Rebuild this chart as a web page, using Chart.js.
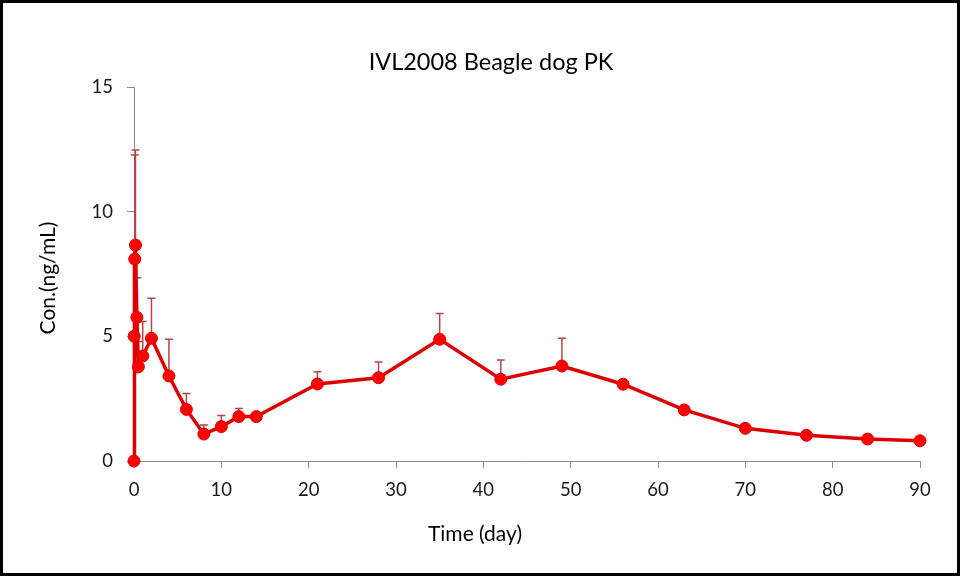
<!DOCTYPE html>
<html><head><meta charset="utf-8">
<script src="https://cdn.jsdelivr.net/npm/chart.js@4/dist/chart.umd.min.js"></script>
<style>html,body{margin:0;padding:0;background:#fff}#wrap{width:960px;height:576px;position:relative}</style>
</head><body><div id="wrap"><canvas id="c" width="960" height="576"></canvas></div>
<script>
const chartTitle = 'IVL2008 Beagle dog PK';
const xAxisTitle = 'Time (day)';
const yAxisTitle = 'Con.(ng/mL)';
const timeDays = [0, 0.021, 0.083, 0.167, 0.333, 0.5, 1, 2, 4, 6, 8, 10, 12, 14, 21, 28, 35, 42, 49, 56, 63, 70, 77, 84, 90];
const concMean = [0, 5.0, 8.1, 8.66, 5.76, 3.78, 4.21, 4.92, 3.41, 2.07, 1.08, 1.38, 1.78, 1.78, 3.09, 3.34, 4.88, 3.28, 3.81, 3.08, 2.05, 1.31, 1.03, 0.88, 0.81];
const concSD = [0, 0, 4.17, 3.81, 1.59, 1.01, 1.38, 1.61, 1.47, 0.64, 0.36, 0.44, 0.33, 0, 0.49, 0.63, 1.04, 0.77, 1.11, 0, 0, 0, 0, 0, 0];
const xTickValues = [0, 10, 20, 30, 40, 50, 60, 70, 80, 90];
const yTickValues = [0, 5, 10, 15];

const FONT = 'Lato, "Noto Sans", sans-serif';

const errorBars = {
  id: 'errorBars',
  beforeDatasetsDraw(chart) {
    const { ctx, scales: { x, y } } = chart;
    ctx.save();
    ctx.strokeStyle = '#b4454a';
    ctx.lineWidth = 1.5;
    timeDays.forEach((t, i) => {
      const sd = concSD[i];
      if (!sd) return;
      const px = x.getPixelForValue(t);
      const p0 = y.getPixelForValue(concMean[i]);
      const p1 = y.getPixelForValue(concMean[i] + sd);
      ctx.beginPath();
      ctx.moveTo(px, p0); ctx.lineTo(px, p1);
      ctx.moveTo(px - 4, p1); ctx.lineTo(px + 4, p1);
      ctx.stroke();
    });
    ctx.restore();
  }
};

const texts = {
  id: 'texts',
  afterDraw(chart) {
    const ctx = chart.ctx;
    ctx.save();
    ctx.strokeStyle = '#000';
    ctx.lineWidth = 3;
    ctx.strokeRect(1.5, 1.5, 957, 573);
    ctx.fillStyle = '#000';
    ctx.textAlign = 'center';
    ctx.textBaseline = 'middle';
    ctx.font = '23.5px ' + FONT;
    ctx.fillText(chartTitle, 491, 62);
    ctx.font = '21px ' + FONT;
    ctx.fillText(xAxisTitle, 475, 534);
    ctx.translate(48, 278);
    ctx.rotate(-Math.PI / 2);
    ctx.fillText(yAxisTitle, 0, 0);
    ctx.restore();
  }
};

new Chart(document.getElementById('c'), {
  type: 'line',
  data: {
    datasets: [{
      data: timeDays.map((t, i) => ({ x: t, y: concMean[i] })),
      borderColor: '#dc0000',
      borderWidth: 3.5,
      backgroundColor: '#ff0000',
      pointBackgroundColor: '#ff0000',
      pointBorderColor: '#e00000',
      pointBorderWidth: 1,
      pointRadius: 6,
      tension: 0,
      clip: false
    }]
  },
  options: {
    responsive: false,
    animation: false,
    layout: { padding: { top: 87, right: 40, bottom: 0, left: 0 } },
    plugins: { legend: { display: false }, title: { display: false }, tooltip: { enabled: false } },
    scales: {
      x: {
        type: 'linear', min: 0, max: 90,
        afterBuildTicks(s) { s.ticks = xTickValues.map(v => ({ value: v })); },
        afterFit(s) { s.height = 115; },
        grid: { drawOnChartArea: false, drawTicks: true, tickLength: 7, color: '#8c8c8c' },
        border: { color: '#8c8c8c', width: 1 },
        ticks: { padding: 11, color: '#1a1a1a', font: { family: FONT, size: 18.5 } }
      },
      y: {
        type: 'linear', min: 0, max: 15,
        afterBuildTicks(s) { s.ticks = yTickValues.map(v => ({ value: v })); },
        afterFit(s) { s.width = 134; },
        grid: { drawOnChartArea: false, drawTicks: true, tickLength: 7, color: '#8c8c8c' },
        border: { color: '#8c8c8c', width: 1 },
        ticks: { padding: 14, color: '#1a1a1a', font: { family: FONT, size: 18.5 } }
      }
    }
  },
  plugins: [errorBars, texts]
});
</script></body></html>
